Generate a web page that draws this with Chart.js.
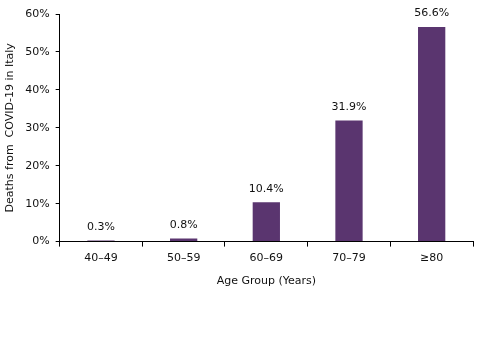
<!DOCTYPE html>
<html>
<head>
<meta charset="utf-8">
<script src="https://cdn.jsdelivr.net/npm/chart.js@4/dist/chart.umd.min.js"></script>
<style>
  html, body { margin: 0; padding: 0; background: #fff; }
  #wrap { width: 480px; height: 362px; }
</style>
</head>
<body>
<div id="wrap"><canvas id="ageChart" width="480" height="362"></canvas></div>
<script>
const ageGroups = ["40\u201349", "50\u201359", "60\u201369", "70\u201379", "\u226580"];
const deathShare = [0.3, 0.8, 10.4, 31.9, 56.6];
const yTicks = [0, 10, 20, 30, 40, 50, 60];

const fontFamily = "'DejaVu Sans', Verdana, sans-serif";

// draw the value above each bar
const barLabels = {
    id: "barLabels",
    afterDatasetsDraw(chart) {
        const ctx = chart.ctx;
        const meta = chart.getDatasetMeta(0);
        ctx.save();
        ctx.font = "11px " + fontFamily;
        ctx.fillStyle = "#111";
        ctx.textAlign = "center";
        ctx.textBaseline = "bottom";
        meta.data.forEach(function(bar, i) {
            ctx.fillText(deathShare[i].toFixed(1) + "%", bar.x, bar.y - 8);
        });
        ctx.restore();
    }
};

new Chart(document.getElementById("ageChart").getContext("2d"), {
    type: "bar",
    data: {
        labels: ageGroups,
        datasets: [{
            data: deathShare,
            backgroundColor: "#5A356F",
            categoryPercentage: 1,
            barPercentage: 0.33
        }]
    },
    options: {
        responsive: false,
        animation: false,
        layout: { padding: { top: 14, right: 7, bottom: 70, left: 0 } },
        plugins: {
            legend: { display: false },
            tooltip: { enabled: false }
        },
        scales: {
            x: {
                grid: {
                    offset: true,
                    drawOnChartArea: false,
                    color: "#000",
                    tickLength: 5
                },
                border: { color: "#000", width: 1 },
                ticks: { color: "#111", font: { family: fontFamily, size: 11 }, padding: 5 },
                title: {
                    display: true,
                    text: "Age Group (Years)",
                    color: "#111",
                    font: { family: fontFamily, size: 11 },
                    padding: { top: 5 }
                }
            },
            y: {
                min: 0,
                max: 60,
                afterBuildTicks(axis) {
                    axis.ticks = yTicks.map(function(v) { return { value: v }; });
                },
                grid: {
                    drawOnChartArea: false,
                    color: "#000",
                    tickLength: 4
                },
                border: { color: "#000", width: 1 },
                ticks: {
                    color: "#111",
                    font: { family: fontFamily, size: 11 },
                    padding: 6,
                    callback: function(v) { return v + "%"; }
                },
                title: {
                    display: true,
                    text: "Deaths from  COVID-19 in Italy",
                    color: "#111",
                    font: { family: fontFamily, size: 11 },
                    padding: { bottom: 2 }
                }
            }
        }
    },
    plugins: [barLabels]
});
</script>
</body>
</html>
